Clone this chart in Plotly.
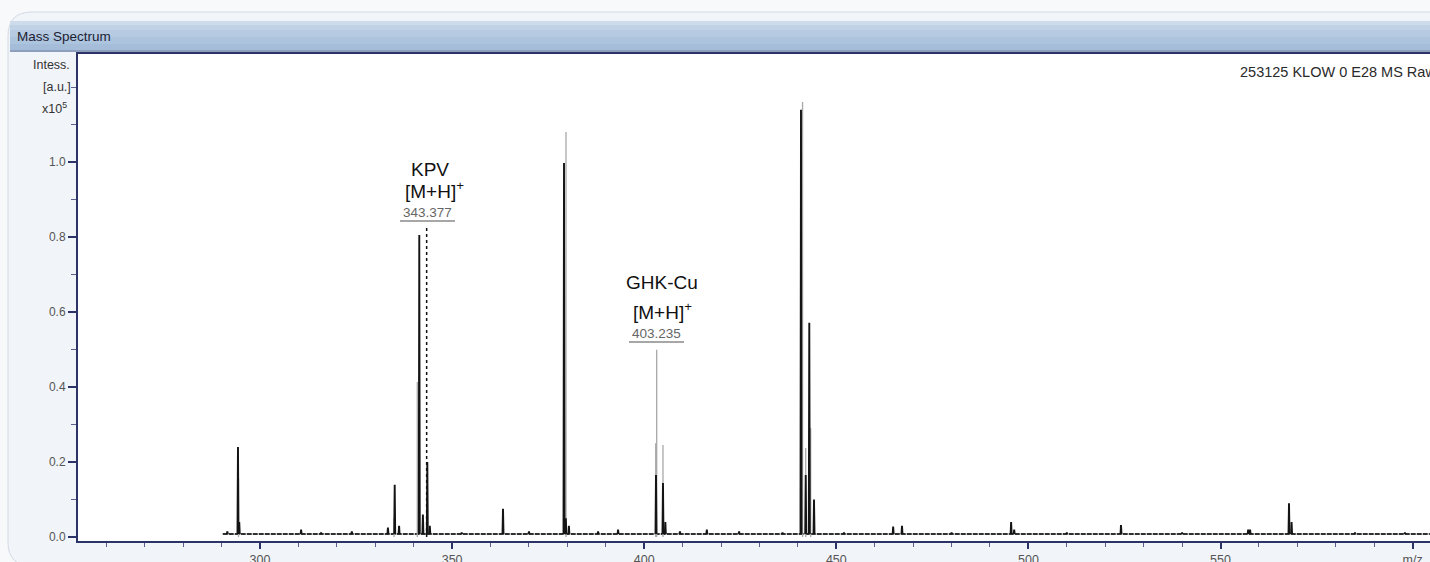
import plotly.graph_objects as go

# ---------------- data ----------------
# dark (profile) peaks: m/z and intensity (x10^5 a.u.)
dark_mz = [291.5, 294.27, 294.6, 310.7, 315.9, 323.9, 333.3, 335.06, 336.2,
           341.46, 342.4, 343.55, 344.2, 352.5, 363.25, 370.0, 379.13, 379.6,
           380.4, 388.0, 393.2, 403.07, 404.89, 405.5, 409.3, 416.3, 424.7,
           436.0, 440.81, 442.04, 442.97, 444.2, 452.0, 464.8, 467.1, 480.0,
           495.5, 496.3, 510.0, 524.1, 540.0, 557.2, 557.7, 567.83, 568.5,
           585.0, 598.0]
dark_int = [0.015, 0.240, 0.040, 0.020, 0.012, 0.015, 0.025, 0.139, 0.030,
            0.805, 0.060, 0.200, 0.030, 0.012, 0.075, 0.015, 0.997, 0.050,
            0.030, 0.015, 0.020, 0.165, 0.144, 0.040, 0.015, 0.020, 0.015,
            0.012, 1.139, 0.165, 0.571, 0.100, 0.012, 0.028, 0.030, 0.012,
            0.040, 0.020, 0.012, 0.032, 0.012, 0.020, 0.020, 0.090, 0.040,
            0.012, 0.012]

# light (centroid / marker) lines
gray_mz = [294.4, 334.9, 340.94, 379.65, 403.0, 403.25, 404.89, 441.22, 442.04, 443.33]
gray_int = [0.157, 0.050, 0.413, 1.080, 0.250, 0.499, 0.245, 1.160, 0.237, 0.290]

baseline_level = 0.008
spectrum_start, spectrum_end = 290.3, 604.5

kpv_mz, kpv_top = 343.377, 0.824

x_tick_vals = [300, 350, 400, 450, 500, 550, 600]
x_tick_text = ["300", "350", "400", "450", "500", "550", "m/z"]
y_tick_vals = [0.0, 0.2, 0.4, 0.6, 0.8, 1.0]
y_tick_text = ["0.0", "0.2", "0.4", "0.6", "0.8", "1.0"]

x_range = [252.63, 604.53]
y_range = [-0.0107, 1.288]

# ---------------- geometry helpers ----------------
W, H = 1430, 562
PL, PT, PR, PB = 78, 54, 1430, 541


def fx(px):
    return (px - PL) / (PR - PL)


def fy(py):
    return (PB - py) / (PB - PT)


FONT = "Liberation Sans, Arial, sans-serif"
AXIS = "#2c3366"

# build the profile line from the peak list
half_w = 0.13
peaks = sorted(zip(dark_mz, dark_int))
sx, sy = [], []
for m, h in peaks:
    sx += [m - half_w, m, m + half_w, None]
    sy += [baseline_level, h, baseline_level, None]

gx, gy = [], []
for m, h in zip(gray_mz, gray_int):
    gx += [m, m, None]
    gy += [0, h, None]

fig = go.Figure()
fig.add_trace(go.Scatter(x=[spectrum_start, spectrum_end],
                         y=[baseline_level, baseline_level], mode="lines",
                         line=dict(color="#303030", width=2.2, dash="5px,1px"),
                         hoverinfo="skip"))
fig.add_trace(go.Scatter(x=gx, y=gy, mode="lines",
                         line=dict(color="#a8a8a8", width=1.3),
                         hoverinfo="skip"))
fig.add_trace(go.Scatter(x=sx, y=sy, mode="lines",
                         line=dict(color="#141414", width=1.9),
                         hoverinfo="skip"))
fig.add_trace(go.Scatter(x=[kpv_mz, kpv_mz], y=[0, kpv_top], mode="lines",
                         line=dict(color="#111111", width=1.5, dash="3px,3px"),
                         hoverinfo="skip"))

# ---------------- window chrome ----------------
shapes = []
r = 24
x0w, y0w, x1w, y1w = 8, 12, 1450, 566
path = (f"M {fx(x0w)},{fy(y0w + r)} Q {fx(x0w)},{fy(y0w)} {fx(x0w + r)},{fy(y0w)} "
        f"L {fx(x1w)},{fy(y0w)} L {fx(x1w)},{fy(y1w)} L {fx(x0w + r)},{fy(y1w)} "
        f"Q {fx(x0w)},{fy(y1w)} {fx(x0w)},{fy(y1w - r)} Z")
shapes.append(dict(type="path", path=path, xref="paper", yref="paper",
                   fillcolor="#f1f4f8", line=dict(color="#d3dae4", width=1),
                   layer="below"))
stripes = [(21, 25, "#cddbea"), (25, 30, "#c0d2e6"), (30, 37, "#b6cbe2"),
           (37, 44, "#adc4de"), (44, 50, "#a5bdd9"), (50, 52, "#8e9fbd")]
for ya, yb, c in stripes:
    shapes.append(dict(type="rect", xref="paper", yref="paper",
                       x0=fx(10), x1=fx(1450), y0=fy(yb), y1=fy(ya),
                       fillcolor=c, line=dict(width=0), layer="below"))
shapes.append(dict(type="rect", xref="paper", yref="paper",
                   x0=0, x1=1, y0=0, y1=1, fillcolor="white",
                   line=dict(width=0), layer="below"))
# underlines of the mass labels
shapes.append(dict(type="line", xref="paper", yref="paper",
                   x0=fx(400), x1=fx(455), y0=fy(221), y1=fy(221),
                   line=dict(color="#8a8a8a", width=1.5)))
shapes.append(dict(type="line", xref="paper", yref="paper",
                   x0=fx(629), x1=fx(684), y0=fy(342), y1=fy(342),
                   line=dict(color="#8a8a8a", width=1.5)))

ann = []


def txt(text, px, py, size, color="#222", xanchor="center", family=FONT):
    ann.append(dict(text=text, x=fx(px), y=fy(py), xref="paper", yref="paper",
                    xanchor=xanchor, yanchor="middle", showarrow=False,
                    font=dict(family=family, size=size, color=color)))


txt("Mass Spectrum", 15, 36, 13.5, "#1d2233", "left")
txt("Intess.", 72, 65, 12.5, "#333", "right")
txt("[a.u.]", 73, 87, 12.5, "#333", "right")
txt("x10<sup>5</sup>", 69, 108, 12.5, "#333", "right")
txt("253125 KLOW 0 E28 MS Raw", 1238, 72, 14.5, "#2a2a2a", "left")

txt("KPV", 430, 169, 19, "#111")
txt("[M+H]<sup>+</sup>", 434, 190, 19, "#111")
txt("343.377", 427, 212, 13.5, "#666")
txt("GHK-Cu", 662, 282, 19, "#111")
txt("[M+H]<sup>+</sup>", 662, 311, 19, "#111")
txt("403.235", 656, 333, 13.5, "#666")

fig.update_layout(
    width=W, height=H,
    margin=dict(l=PL, r=W - PR, t=PT, b=H - PB),
    paper_bgcolor="#f7f9fb", plot_bgcolor="white",
    showlegend=False, hovermode=False,
    shapes=shapes, annotations=ann,
    xaxis=dict(range=x_range, showgrid=False, zeroline=False, automargin=False,
               showline=True, linecolor=AXIS, linewidth=2, mirror=True,
               ticks="outside", ticklen=6, tickwidth=1.5, tickcolor=AXIS,
               tickvals=x_tick_vals, ticktext=x_tick_text,
               tickfont=dict(family=FONT, size=12.5, color="#555"),
               minor=dict(dtick=10, ticks="outside", ticklen=4,
                          tickwidth=1, tickcolor="#5a6090")),
    yaxis=dict(range=y_range, showgrid=False, zeroline=False, automargin=False,
               showline=True, linecolor=AXIS, linewidth=2,
               ticks="outside", ticklen=8, tickwidth=1.5, tickcolor=AXIS,
               tickvals=y_tick_vals, ticktext=y_tick_text,
               tickfont=dict(family=FONT, size=12, color="#555"),
               minor=dict(dtick=0.1, ticks="outside", ticklen=5,
                          tickwidth=1, tickcolor="#5a6090")),
)

fig.write_html("out.html", config={"displayModeBar": False},
               post_script="document.body.style.margin='0';"
                           "document.body.style.overflow='hidden';")
